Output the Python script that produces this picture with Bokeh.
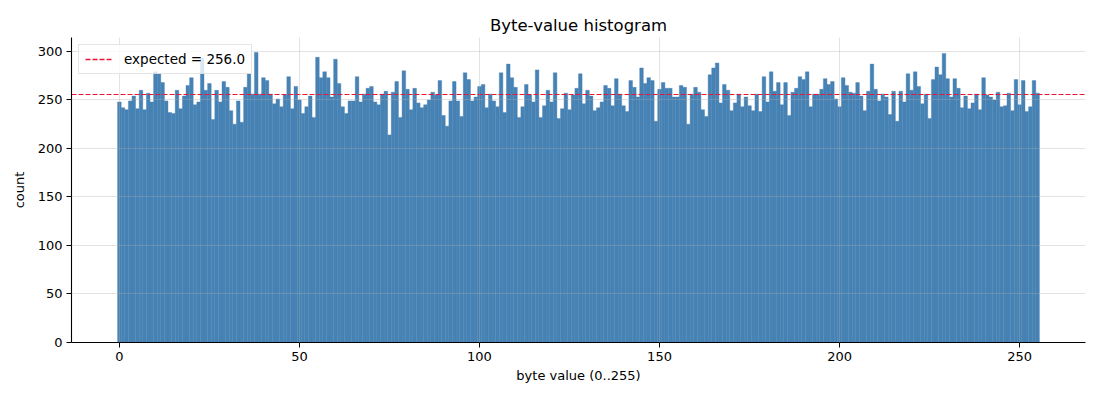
from bokeh.plotting import figure
from bokeh.models import Range1d, Legend, LegendItem, FixedTicker
from bokeh.embed import file_html
from bokeh.resources import INLINE

byte_values = list(range(256))
counts = [
    248, 242, 240, 249, 254, 241, 260, 240, 257, 248, 279, 277, 268, 249, 237, 236,
    260, 241, 254, 265, 273, 245, 248, 293, 260, 267, 230, 260, 248, 269, 263, 239,
    225, 249, 227, 263, 277, 256, 299, 256, 273, 270, 256, 246, 251, 243, 255, 274,
    241, 264, 250, 236, 243, 254, 232, 294, 273, 279, 273, 253, 292, 267, 243, 236,
    249, 249, 274, 248, 256, 262, 264, 248, 245, 256, 259, 214, 258, 269, 232, 280,
    261, 240, 262, 247, 242, 245, 250, 258, 255, 270, 234, 223, 249, 269, 249, 233,
    278, 271, 249, 253, 264, 266, 242, 256, 249, 243, 278, 237, 287, 273, 263, 232,
    243, 266, 255, 248, 281, 232, 244, 260, 248, 278, 231, 241, 257, 240, 255, 262,
    277, 246, 260, 254, 239, 242, 248, 265, 262, 244, 272, 256, 244, 238, 270, 263,
    253, 283, 267, 273, 270, 228, 261, 268, 262, 262, 253, 253, 265, 263, 225, 256,
    263, 258, 240, 233, 276, 283, 288, 247, 266, 260, 239, 247, 256, 243, 253, 244,
    239, 256, 238, 274, 248, 279, 259, 268, 245, 268, 234, 258, 262, 274, 271, 279,
    243, 256, 256, 261, 272, 266, 269, 251, 243, 273, 265, 258, 257, 268, 254, 239,
    259, 287, 261, 249, 256, 253, 235, 259, 228, 259, 248, 277, 260, 279, 264, 246,
    256, 231, 271, 284, 276, 298, 272, 253, 272, 262, 242, 254, 241, 247, 256, 240,
    273, 255, 253, 250, 258, 243, 244, 257, 239, 271, 245, 270, 238, 243, 270, 257,
]
expected = 256.0
x_ticks = [0, 50, 100, 150, 200, 250]
y_ticks = [0, 50, 100, 150, 200, 250, 300]

FONT = "DejaVu Sans"
BAR = "#4682B4"
RED = "#E8173A"

p = figure(
    width=1092, height=392,
    output_backend="svg", toolbar_location=None,
    x_range=Range1d(-13.3, 268.3), y_range=Range1d(0, 314.4),
    title="Byte-value histogram",
    min_border_left=71, min_border_right=7, min_border_top=37, min_border_bottom=50,
)
p.background_fill_color = "white"
p.border_fill_color = "white"
p.outline_line_color = None

p.vbar(x=byte_values, top=counts, width=1.0, bottom=0,
       fill_color=BAR, line_color=BAR, line_width=0.4)

p.hspan(y=[expected], line_color=RED, line_dash="5 2", line_width=1.2)

# legend swatch: a one-point line (draws nothing on the plot itself)
swatch = p.line(x=[byte_values[0]], y=[expected], line_color=RED,
                line_dash="5 2", line_width=1.6)

legend = Legend(location="top_left",
                items=[LegendItem(label=f"expected = {expected:.1f}", renderers=[swatch])])
legend.margin = 7
legend.padding = 6
legend.spacing = 0
legend.glyph_width = 28
legend.glyph_height = 14
legend.label_height = 14
legend.label_standoff = 11
legend.label_text_font = FONT
legend.label_text_font_size = "13.5px"
legend.label_text_color = "black"
legend.background_fill_color = "white"
legend.background_fill_alpha = 0.8
legend.border_line_color = "#cccccc"
legend.border_line_width = 1
p.add_layout(legend)

p.title.text_font = FONT
p.title.text_font_size = "16.5px"
p.title.text_font_style = "normal"
p.title.text_color = "black"
p.title.align = "center"
p.title.standoff = 6

for ax, ticks in ((p.xaxis, x_ticks), (p.yaxis, y_ticks)):
    ax.ticker = FixedTicker(ticks=ticks)
    ax.minor_tick_line_color = None
    ax.major_tick_out = 5
    ax.major_tick_in = 0
    ax.axis_line_color = "black"
    ax.axis_line_width = 1.1
    ax.major_tick_line_color = "black"
    ax.major_label_text_font = FONT
    ax.major_label_text_font_size = "13px"
    ax.major_label_text_color = "black"
    ax.axis_label_text_font = FONT
    ax.axis_label_text_font_size = "13px"
    ax.axis_label_text_font_style = "normal"
    ax.axis_label_text_color = "black"
    ax.major_label_standoff = 4

p.xaxis.axis_label = "byte value (0..255)"
p.yaxis.axis_label = "count"
p.xaxis.axis_label_standoff = 4
p.yaxis.axis_label_standoff = 8

p.grid.grid_line_color = "#b0b0b0"
p.grid.grid_line_alpha = 0.35
p.grid.level = "guide"

open("out.html", "w").write(file_html(p, INLINE))
